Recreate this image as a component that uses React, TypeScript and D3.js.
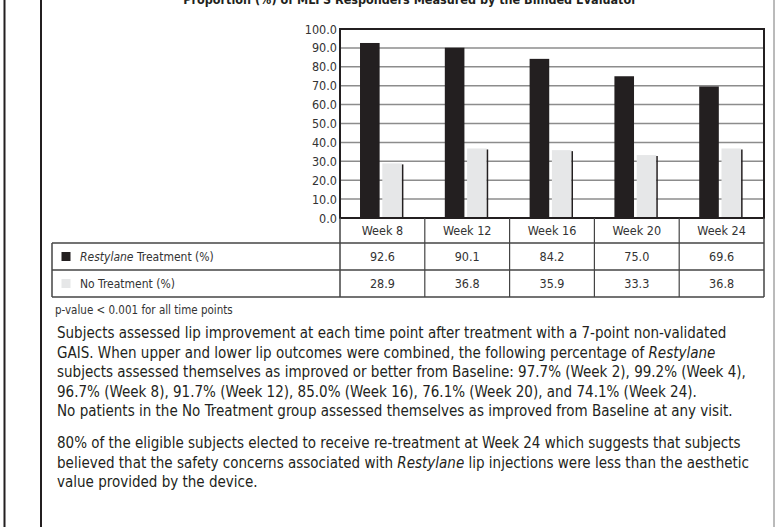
import React, { useEffect, useRef } from 'react';
import * as d3 from 'd3';

const categories = ['Week 8', 'Week 12', 'Week 16', 'Week 20', 'Week 24'];
const restylaneValues = [92.6, 90.1, 84.2, 75.0, 69.6];
const noTreatmentValues = [28.9, 36.8, 35.9, 33.3, 36.8];
const yTicks = [0, 10, 20, 30, 40, 50, 60, 70, 80, 90, 100];
const seriesNames = ['Restylane Treatment (%)', 'No Treatment (%)'];

const FONT = "'Liberation Sans Narrow', 'DejaVu Sans Condensed', 'Arial Narrow', sans-serif";
const DARK = '#231f20';
const LIGHT = '#e6e7e8';

const App: React.FC = () => {
  const svgRef = useRef<SVGSVGElement>(null);

  useEffect(() => {
    if (!svgRef.current) return;
    const svg = d3.select(svgRef.current);
    svg.selectAll('*').remove();

    const H = 527;
    const plot = { left: 340, right: 764, top: 29, bottom: 218 };
    const rowY = [218, 243, 270, 297];
    const tableLeft = 52;

    // page frame lines
    svg.append('line').attr('x1', 4.5).attr('x2', 4.5).attr('y1', 0).attr('y2', H)
      .attr('stroke', DARK).attr('stroke-width', 2);
    svg.append('line').attr('x1', 41).attr('x2', 41).attr('y1', 0).attr('y2', H)
      .attr('stroke', DARK).attr('stroke-width', 2);
    svg.append('line').attr('x1', 774).attr('x2', 774).attr('y1', 0).attr('y2', H)
      .attr('stroke', '#777').attr('stroke-width', 1);

    // title (cut off at the top of the page)
    svg.append('text')
      .attr('x', 410).attr('y', 4)
      .attr('text-anchor', 'middle')
      .attr('font-family', FONT).attr('font-size', 12.5).attr('font-weight', 'bold')
      .attr('fill', DARK)
      .text('Proportion (%) of MLFS Responders Measured by the Blinded Evaluator');

    const x0 = d3.scaleBand<string>().domain(categories).range([plot.left, plot.right]);
    const bw = x0.bandwidth();
    const x1 = d3.scaleBand<string>().domain(['r', 'n'])
      .range([bw * 0.236, bw * 0.73]).paddingInner(0.12);
    const y = d3.scaleLinear().domain([0, 100]).range([plot.bottom, plot.top]);

    // gridlines
    svg.append('g').selectAll('line').data(yTicks.slice(1, -1)).enter().append('line')
      .attr('x1', plot.left).attr('x2', plot.right)
      .attr('y1', d => y(d)).attr('y2', d => y(d))
      .attr('stroke', '#8c8c8c').attr('stroke-width', 1.5);

    // y labels
    svg.append('g').selectAll('text').data(yTicks).enter().append('text')
      .attr('x', plot.left - 3).attr('y', d => y(d))
      .attr('dy', '0.36em')
      .attr('text-anchor', 'end')
      .attr('font-family', FONT).attr('font-size', 12.5).attr('fill', '#333')
      .text(d => d3.format('.1f')(d));

    // bars
    const groups = svg.append('g').selectAll('g').data(categories).enter().append('g')
      .attr('transform', d => `translate(${x0(d)},0)`);

    groups.append('rect')
      .attr('x', x1('r')!)
      .attr('width', x1.bandwidth())
      .attr('y', (d, i) => y(restylaneValues[i]))
      .attr('height', (d, i) => y(0) - y(restylaneValues[i]))
      .attr('fill', DARK);

    groups.append('rect')
      .attr('x', x1('n')!)
      .attr('width', x1.bandwidth())
      .attr('y', (d, i) => y(noTreatmentValues[i]))
      .attr('height', (d, i) => y(0) - y(noTreatmentValues[i]))
      .attr('fill', LIGHT);

    // little shadow edge on the light bars
    groups.append('line')
      .attr('x1', x1('n')! + x1.bandwidth() + 0.75)
      .attr('x2', x1('n')! + x1.bandwidth() + 0.75)
      .attr('y1', (d, i) => y(noTreatmentValues[i]) + 1)
      .attr('y2', y(0))
      .attr('stroke', DARK).attr('stroke-width', 1.5);

    // plot frame
    svg.append('rect')
      .attr('x', plot.left).attr('y', plot.top)
      .attr('width', plot.right - plot.left).attr('height', plot.bottom - plot.top)
      .attr('fill', 'none').attr('stroke', DARK).attr('stroke-width', 2);

    // data table
    const table = svg.append('g');
    const tStroke = '#444';
    table.append('line').attr('x1', plot.left).attr('x2', plot.left)
      .attr('y1', rowY[0]).attr('y2', rowY[3]).attr('stroke', tStroke).attr('stroke-width', 1.5);
    table.append('line').attr('x1', plot.right).attr('x2', plot.right)
      .attr('y1', rowY[0]).attr('y2', rowY[3]).attr('stroke', tStroke).attr('stroke-width', 1.5);
    table.append('line').attr('x1', tableLeft).attr('x2', tableLeft)
      .attr('y1', rowY[1]).attr('y2', rowY[3]).attr('stroke', tStroke).attr('stroke-width', 1.5);
    categories.slice(1).forEach(c => {
      table.append('line').attr('x1', x0(c)!).attr('x2', x0(c)!)
        .attr('y1', rowY[0]).attr('y2', rowY[3]).attr('stroke', tStroke).attr('stroke-width', 1.2);
    });
    rowY.slice(1).forEach(ry => {
      table.append('line').attr('x1', tableLeft).attr('x2', plot.right)
        .attr('y1', ry).attr('y2', ry).attr('stroke', tStroke).attr('stroke-width', 1.5);
    });

    table.selectAll('text.cat').data(categories).enter().append('text')
      .attr('class', 'cat')
      .attr('x', d => x0(d)! + bw / 2).attr('y', (rowY[0] + rowY[1]) / 2)
      .attr('dy', '0.36em').attr('text-anchor', 'middle')
      .attr('font-family', FONT).attr('font-size', 12.5).attr('fill', '#333')
      .text(d => d);

    [restylaneValues, noTreatmentValues].forEach((vals, r) => {
      const cy = (rowY[r + 1] + rowY[r + 2]) / 2;
      table.selectAll(`text.v${r}`).data(vals).enter().append('text')
        .attr('class', `v${r}`)
        .attr('x', (d, i) => x0(categories[i])! + bw / 2).attr('y', cy)
        .attr('dy', '0.36em').attr('text-anchor', 'middle')
        .attr('font-family', FONT).attr('font-size', 12.5).attr('fill', '#333')
        .text(d => d.toFixed(1));

      table.append('rect')
        .attr('x', 61.5).attr('y', cy - 4.5).attr('width', 9).attr('height', 9)
        .attr('fill', r === 0 ? DARK : LIGHT);

      const label = table.append('text')
        .attr('x', 80).attr('y', cy).attr('dy', '0.36em')
        .attr('font-family', FONT).attr('font-size', 12).attr('fill', '#333');
      if (r === 0) {
        label.append('tspan').attr('font-style', 'italic').text('Restylane');
        label.append('tspan').text(' Treatment (%)');
      } else {
        label.text(seriesNames[1]);
      }
    });

    // footnote
    svg.append('text')
      .attr('x', 55).attr('y', 314)
      .attr('font-family', FONT).attr('font-size', 11.5).attr('fill', '#333')
      .text('p-value < 0.001 for all time points');

    // body text
    const para: [string, boolean][][] = [
      [['Subjects assessed lip improvement at each time point after treatment with a 7-point non-validated', false]],
      [['GAIS. When upper and lower lip outcomes were combined, the following percentage of ', false], ['Restylane', true]],
      [['subjects assessed themselves as improved or better from Baseline: 97.7% (Week 2), 99.2% (Week 4),', false]],
      [['96.7% (Week 8), 91.7% (Week 12), 85.0% (Week 16), 76.1% (Week 20), and 74.1% (Week 24).', false]],
      [['No patients in the No Treatment group assessed themselves as improved from Baseline at any visit.', false]],
    ];
    const para2: [string, boolean][][] = [
      [['80% of the eligible subjects elected to receive re-treatment at Week 24 which suggests that subjects', false]],
      [['believed that the safety concerns associated with ', false], ['Restylane', true], [' lip injections were less than the aesthetic', false]],
      [['value provided by the device.', false]],
    ];
    const drawPara = (lines: [string, boolean][][], startY: number) => {
      lines.forEach((parts, i) => {
        const t = svg.append('text')
          .attr('x', 57).attr('y', startY + i * 19.5)
          .attr('font-family', FONT).attr('font-size', 15).attr('fill', '#231f20');
        parts.forEach(([s, it]) => {
          t.append('tspan').attr('font-style', it ? 'italic' : 'normal').text(s);
        });
      });
    };
    drawPara(para, 338);
    drawPara(para2, 448);
  }, []);

  return (
    <svg
      ref={svgRef}
      width={775}
      height={527}
      style={{ position: 'absolute', left: 0, top: 0, background: '#fff' }}
    />
  );
};

export default App;
